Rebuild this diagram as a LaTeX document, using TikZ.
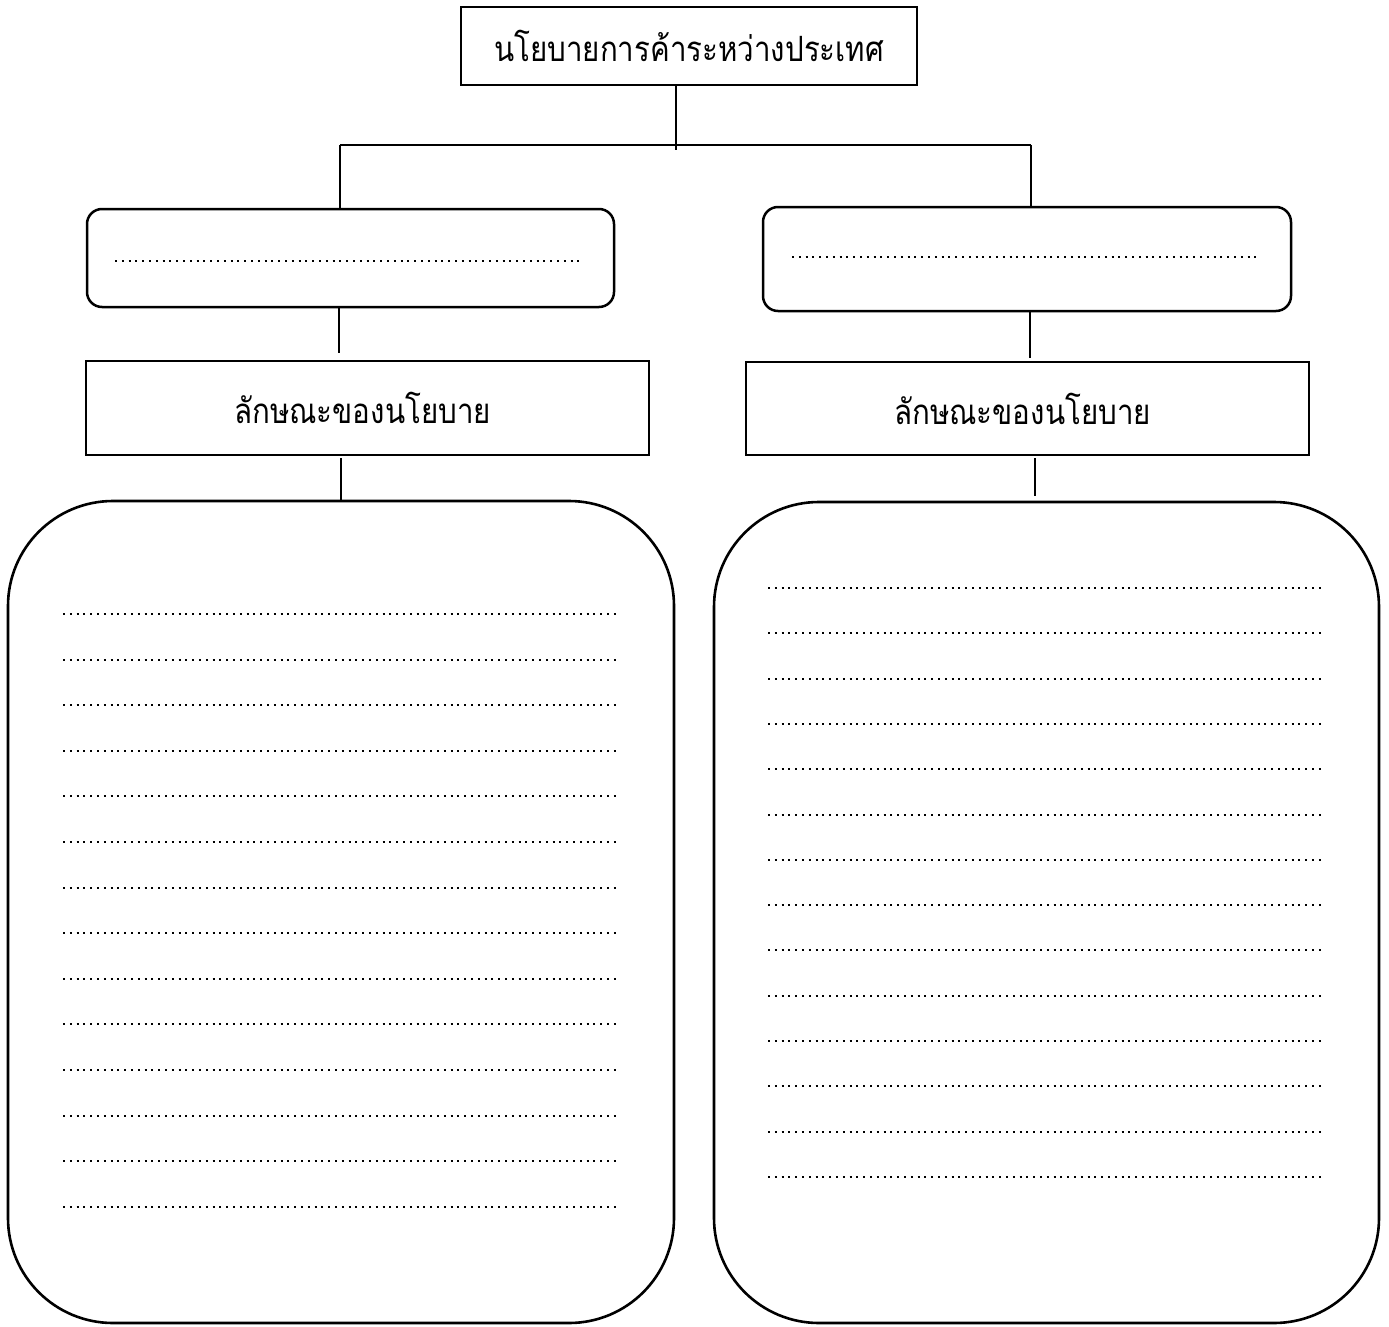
\documentclass[tikz,border=0pt]{standalone}
\usepackage{fontspec}
\newfontfamily\thaifont[Script=Thai]{Loma}
\newcommand{\tallthai}[1]{\scalebox{1}[1.18]{#1}}
\begin{document}
\begin{tikzpicture}[x=1pt,y=-1pt,
  sqbox/.style={draw,line width=1.8pt,rectangle,inner sep=0pt,font=\thaifont\fontsize{29.5}{34}\selectfont},
  rbox/.style={draw,line width=2.5pt,rectangle,rounded corners=15pt,inner sep=0pt},
  bigbox/.style={draw,line width=2.6pt,rectangle,rounded corners=105pt,inner sep=0pt},
  conn/.style={line width=2.2pt},
  dotline/.style={line width=2pt,dash pattern=on 2pt off 4.8pt}]
\useasboundingbox (0,0) rectangle (1389,1327);
% top box
\node[sqbox,minimum width=456pt,minimum height=78pt] (top) at (689,46) {\tallthai{นโยบายการค้าระหว่างประเทศ}};
% level-1 rounded boxes
\node[rbox,minimum width=527pt,minimum height=98pt] (L1) at (350.5,258) {};
\node[rbox,minimum width=528pt,minimum height=104pt] (R1) at (1027,259) {};
% level-2 boxes
\node[sqbox,minimum width=563pt,minimum height=94pt,text width=563pt,align=center] (L2) at (367.5,408) {\hspace*{-10pt}\tallthai{ลักษณะของนโยบาย}};
\node[sqbox,minimum width=563pt,minimum height=93pt,text width=563pt,align=center] (R2) at (1027.5,408.5) {\hspace*{-10pt}\tallthai{ลักษณะของนโยบาย}};
% big boxes
\node[bigbox,minimum width=666pt,minimum height=822pt] (L3) at (341,912) {};
\node[bigbox,minimum width=665pt,minimum height=821pt] (R3) at (1046.5,912.5) {};
% junction coordinates
\coordinate (tj) at (676,150);
\coordinate (hl) at (340,145);
\coordinate (hr) at (1031,145);
% trunk and branches
\draw[conn] (top.south -| tj) -- (tj);
\draw[line width=1.8pt] (hl) -- (hr);
\draw[conn] (hl) -- (hl |- L1.north);
\draw[conn] (hr) -- (hr |- R1.north);
% level-1 to level-2
\coordinate (lc1) at (339,353);
\coordinate (rc1) at (1030,358);
\draw[conn] (lc1 |- L1.south) -- (lc1);
\draw[conn] (rc1 |- R1.south) -- (rc1);
% level-2 to big boxes
\coordinate (lc2) at (341,458);
\coordinate (rc2) at (1035,458);
\coordinate (rc3) at (1035,496);
\draw[conn] (lc2) -- (lc2 |- L3.north);
\draw[conn] (rc2) -- (rc3);
% dotted lines in level-1 boxes
\coordinate (l1a) at (115,261); \coordinate (l1b) at (583,261);
\coordinate (r1a) at (792,257); \coordinate (r1b) at (1258,257);
\draw[dotline] (l1a) -- (l1b);
\draw[dotline] (r1a) -- (r1b);
% dotted lines in big boxes
\foreach \i in {0,...,13}{
  \draw[dotline] (63,614+45.6*\i) -- (617,614+45.6*\i);
  \draw[dotline] (768,588+45.3*\i) -- (1321,588+45.3*\i);
}
\end{tikzpicture}
\end{document}
